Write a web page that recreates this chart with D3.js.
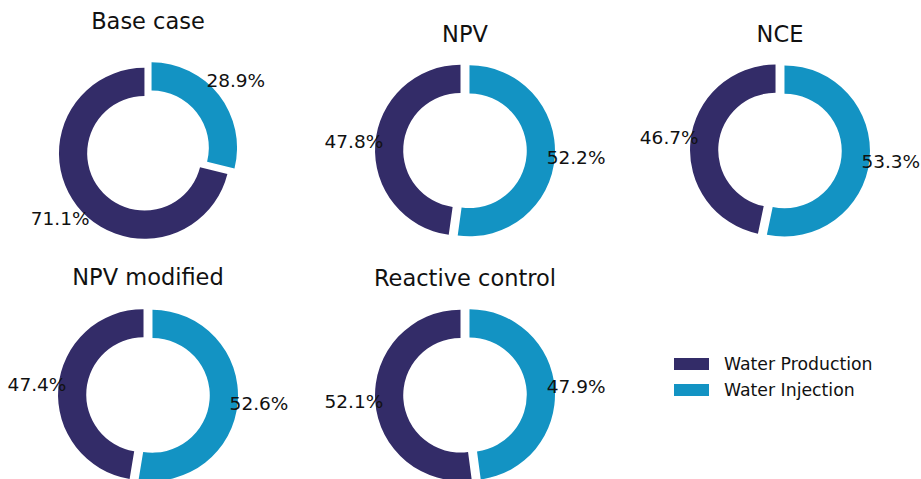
<!DOCTYPE html>
<html>
<head>
<meta charset="utf-8">
<script src="https://cdn.jsdelivr.net/npm/d3@7"></script>
<style>
  html, body { margin: 0; padding: 0; background: #fff; }
  svg { display: block; font-family: "DejaVu Sans", sans-serif; }
</style>
</head>
<body>
<svg id="chart" width="921" height="479"></svg>
<script>
// ---- data ----
const titles = ["Base case", "NPV", "NCE", "NPV modified", "Reactive control"];
const waterInjection = [28.9, 52.2, 53.3, 52.6, 47.9];
const waterProduction = [71.1, 47.8, 46.7, 47.4, 52.1];
const seriesNames = ["Water Production", "Water Injection"];

// ---- layout ----
const colors = { "Water Production": "#332c68", "Water Injection": "#1393c3" };
const colX = [148, 465, 780];
const rowY = [150.5, 395];
const titleBaseline = [29, 42, 42, 285, 286];
const R = 85.5, innerR = R * 0.67, explode = 4.5, pctDist = 1.25 * R;

const svg = d3.select("#chart");

const pie = d3.pie().sort(null).value(d => d.value).startAngle(0).endAngle(2 * Math.PI);
const arc = d3.arc().innerRadius(innerR).outerRadius(R);

titles.forEach((title, i) => {
  const cx = colX[i % 3], cy = rowY[Math.floor(i / 3)];
  const g = svg.append("g").attr("transform", `translate(${cx},${cy})`);
  const data = [
    { name: "Water Injection", value: waterInjection[i] },
    { name: "Water Production", value: waterProduction[i] }
  ];
  const arcs = pie(data);
  arcs.forEach(a => {
    const mid = (a.startAngle + a.endAngle) / 2;
    const dx = explode * Math.sin(mid), dy = -explode * Math.cos(mid);
    g.append("path")
      .attr("d", arc(a))
      .attr("transform", `translate(${dx},${dy})`)
      .attr("fill", colors[a.data.name]);
    const lx = dx + pctDist * Math.sin(mid), ly = dy - pctDist * Math.cos(mid);
    g.append("text")
      .attr("x", lx).attr("y", ly - 1)
      .attr("text-anchor", "middle")
      .attr("dominant-baseline", "central")
      .attr("font-size", 18.5)
      .attr("fill", "#111")
      .text(a.data.value.toFixed(1) + "%");
  });
  svg.append("text")
    .attr("x", cx).attr("y", titleBaseline[i])
    .attr("text-anchor", "middle")
    .attr("font-size", 22.5)
    .attr("fill", "#111")
    .text(title);
});

// ---- legend ----
const legend = svg.append("g").attr("transform", "translate(674,358)");
seriesNames.forEach((name, i) => {
  const row = legend.append("g").attr("transform", `translate(0,${i * 26})`);
  row.append("rect").attr("width", 35).attr("height", 12).attr("fill", colors[name]);
  row.append("text").attr("x", 50).attr("y", 6)
    .attr("dominant-baseline", "central")
    .attr("font-size", 17.3).attr("fill", "#111")
    .text(name);
});
</script>
</body>
</html>
